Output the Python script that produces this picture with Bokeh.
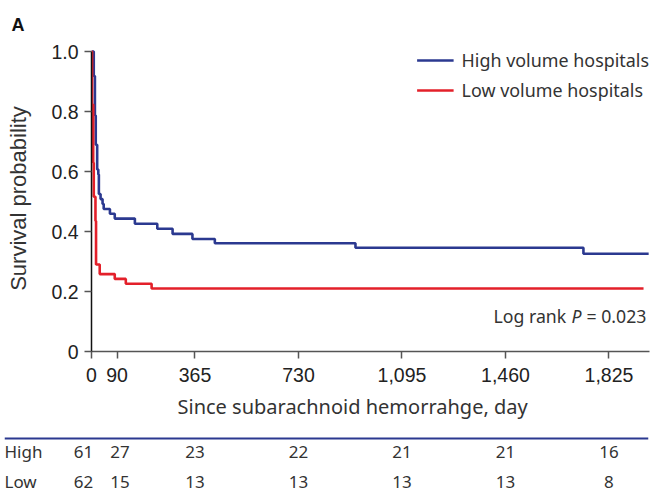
from bokeh.plotting import figure
from bokeh.models import Range1d, FixedTicker, NumeralTickFormatter, Legend, LegendItem, Label, Span, Title
from bokeh.embed import file_html
from bokeh.resources import INLINE
from bokeh.core.properties import value

# Kaplan-Meier survival estimates (days since SAH)
high_days = [0, 8, 12, 15, 20, 24, 26, 32, 39, 43, 65, 82, 153, 232, 286, 356, 435, 931, 1735, 1965]
high_surv = [1.0, 0.918, 0.787, 0.689, 0.607, 0.590, 0.525, 0.508, 0.492, 0.475, 0.459, 0.443,
             0.426, 0.409, 0.392, 0.375, 0.361, 0.346, 0.326, 0.326]
low_days = [0, 2, 6, 8, 14, 16, 29, 82, 121, 212, 1947]
low_surv = [1.0, 0.823, 0.629, 0.516, 0.435, 0.290, 0.258, 0.242, 0.226, 0.210, 0.210]

# Number at risk table
tick_days = [0, 90, 365, 730, 1095, 1460, 1825]
at_risk_high = [61, 27, 23, 22, 21, 21, 16]
at_risk_low = [62, 15, 13, 13, 13, 13, 8]
group_labels = ["High", "Low"]
legend_labels = ["High volume hospitals", "Low volume hospitals"]
y_ticks = [0, 0.2, 0.4, 0.6, 0.8, 1.0]
p_value = 0.023

BLUE = "#2b3990"
RED = "#e3202a"
TEXT = "#333333"
SANS = "Noto Sans"
ARIAL = "Liberation Sans"

W = 651
X_END = 1968
LEFT, RIGHT = 91, 2

p = figure(width=W, height=432, x_range=Range1d(0, X_END), y_range=Range1d(0, 1.02),
           output_backend="svg", toolbar_location=None,
           min_border_left=LEFT, min_border_right=RIGHT, min_border_top=45, min_border_bottom=81)
p.grid.visible = False
p.outline_line_color = None

# panel letter
p.title.text = "A"
p.title.text_font = ARIAL
p.title.text_font_size = "18px"
p.title.text_font_style = "bold"
p.title.text_color = "#111111"
p.title.align = "left"
p.title.offset = -80
p.title.standoff = 22

r_high = p.step(high_days, high_surv, mode="after", line_color=BLUE, line_width=2.6)
r_low = p.step(low_days, low_surv, mode="after", line_color=RED, line_width=2.6)

# axes
p.yaxis.ticker = FixedTicker(ticks=y_ticks)
p.yaxis.major_label_overrides = {t: ("0" if t == 0 else f"{t:.1f}") for t in y_ticks}
p.yaxis.bounds = (0, 1)
p.xaxis.ticker = FixedTicker(ticks=tick_days)
p.xaxis.formatter = NumeralTickFormatter(format="0,0")

p.axis.axis_line_width = 1.5
p.yaxis.axis_line_color = "#111111"
p.xaxis.axis_line_color = "#555555"
p.axis.major_tick_line_color = "#555555"
p.axis.major_tick_line_width = 1.5
p.axis.major_tick_out = 7
p.axis.major_tick_in = 0
p.axis.minor_tick_out = 0
p.axis.minor_tick_in = 0
p.axis.major_label_text_font = ARIAL
p.axis.major_label_text_font_size = "19.5px"
p.axis.major_label_text_color = "#222222"
p.yaxis.major_label_standoff = 6
p.xaxis.major_label_standoff = 9

p.yaxis.axis_label = "Survival probability"
p.yaxis.axis_label_text_font = ARIAL
p.yaxis.axis_label_text_font_size = "22px"
p.yaxis.axis_label_text_font_style = "normal"
p.yaxis.axis_label_text_color = TEXT
p.yaxis.axis_label_standoff = 17

xtitle = Title(text="Since subarachnoid hemorrahge, day", align="left", offset=86,
               text_font=SANS, text_font_size="20px", text_font_style="normal",
               text_color=TEXT, standoff=13)
p.add_layout(xtitle, "below")

legend = Legend(items=[LegendItem(label=legend_labels[0], renderers=[r_high]),
                       LegendItem(label=legend_labels[1], renderers=[r_low])],
                location="top_right", border_line_color=None, background_fill_alpha=0,
                label_text_font=SANS, label_text_font_size="17.9px", label_text_color=TEXT,
                glyph_width=37, glyph_height=30, label_height=30, spacing=0,
                label_standoff=8, margin=0, padding=2)
p.add_layout(legend)

# log-rank annotation, pieces laid out left to right
lr_y = 0.117
for txt, off, style in [("Log rank", -156, "normal"), ("P", -78, "italic"),
                        (f"= {p_value:.3f}", -63, "normal")]:
    p.add_layout(Label(x=X_END, y=lr_y, x_offset=off, text=txt, text_font=SANS,
                       text_font_size="17.7px", text_font_style=style, text_color=TEXT,
                       text_align="left", text_baseline="middle"))

# number-at-risk table, on the same day-to-pixel scale as the curves
L2, R2 = 4, 3
px_per_day = (W - LEFT - RIGHT) / X_END
x2_start = (L2 - LEFT) / px_per_day
x2_end = (W - R2 - LEFT) / px_per_day

t = figure(width=W, height=63, x_range=Range1d(x2_start, x2_end), y_range=Range1d(-0.45, 1.65),
           output_backend="svg", toolbar_location=None,
           min_border_left=L2, min_border_right=R2, min_border_top=0, min_border_bottom=0)
t.axis.visible = False
t.grid.visible = False
t.outline_line_color = None
t.add_layout(Span(location=1.45, dimension="width", line_color=BLUE, line_width=2))

offsets = [-8, 3, 0, 0, 0, 0, 0]
for row_y, counts in [(1, at_risk_high), (0, at_risk_low)]:
    t.text(x=tick_days, y=[row_y] * len(tick_days), text=[str(c) for c in counts],
           x_offset=offsets, text_align="center", text_baseline="middle",
           text_font=value(SANS), text_font_size="17px", text_color=TEXT)
t.text(x=[x2_start, x2_start], y=[1.03, 0.03], text=group_labels, text_align="left",
       text_baseline="middle", text_font=value(SANS), text_font_size="17px", text_color=TEXT)

open("out.html", "w").write(file_html([p, t], INLINE))
